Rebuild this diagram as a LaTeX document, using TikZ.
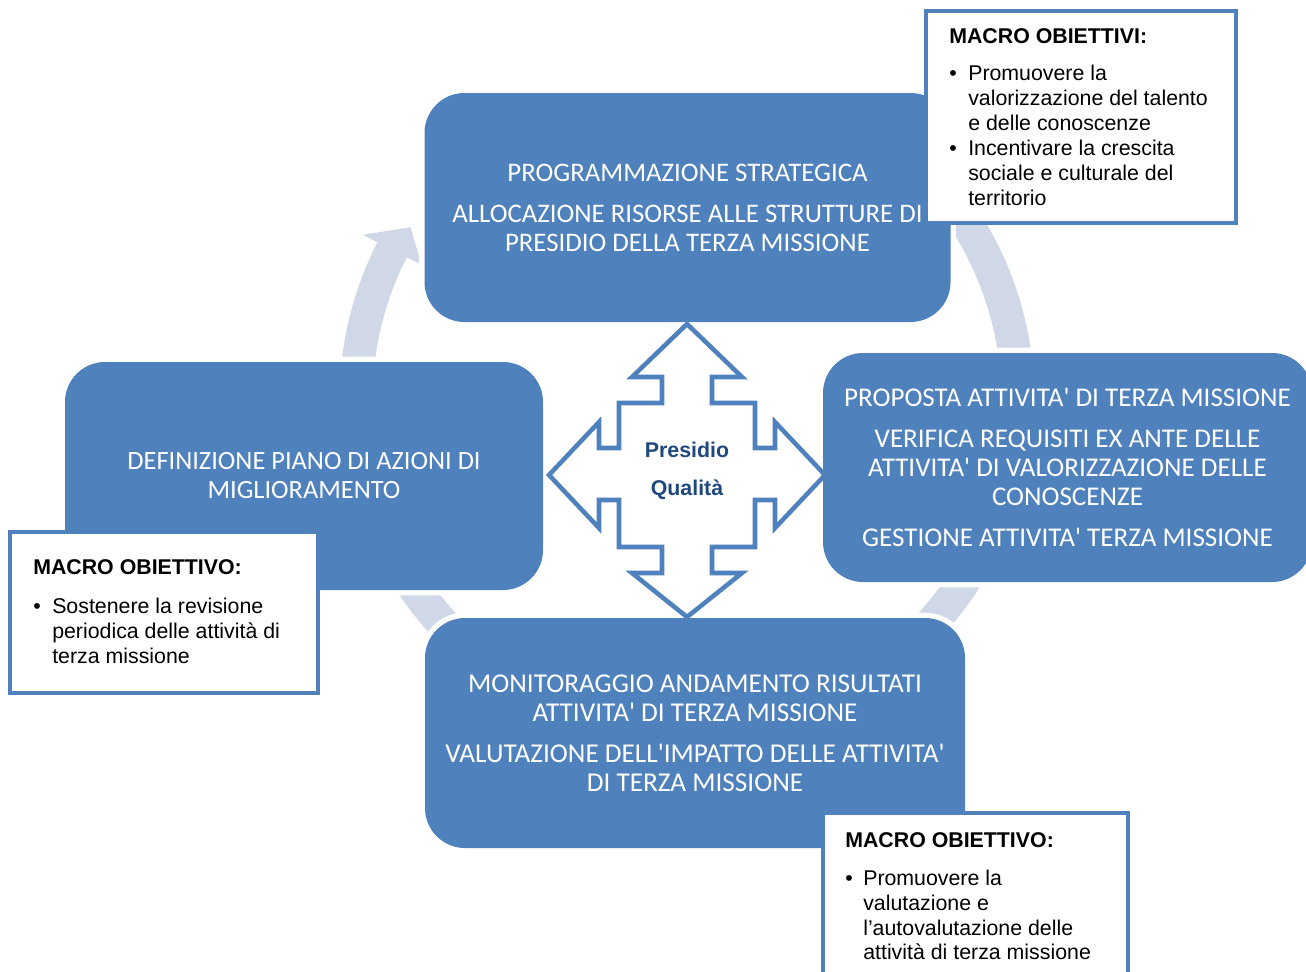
\documentclass[tikz,border=0pt]{standalone}
\usepackage{fontspec}
\newfontfamily\boxfont{Carlito}
\newfontfamily\calfont{Liberation Sans}
\definecolor{boxblue}{HTML}{4F81BD}
\definecolor{ringc}{HTML}{D0D8E8}
\definecolor{darkblue}{HTML}{1F497D}
\begin{document}
\begin{tikzpicture}[x=0.75pt,y=-0.75pt,
  ring/.style={draw=ringc,line width=24.75pt,line cap=butt},
  box/.style={rounded corners=30pt,fill=boxblue,text=white,align=center,inner sep=0pt,
    font=\boxfont\fontsize{#1}{21.75}\selectfont,
    preaction={draw=white,line width=8pt}},
  box/.default=19.8,
  callout/.style={draw=boxblue,fill=white,line width=2.6pt,inner sep=0pt},
  ct/.style={inner sep=0pt,anchor=base west,font=\calfont\fontsize{16}{18.75}\selectfont},
  cttitle/.style={ct,font=\calfont\bfseries\fontsize{16}{18.75}\selectfont},
  quad/.style={draw=boxblue,fill=white,line width=3.4pt,line join=miter},
  pq/.style={inner sep=0pt,anchor=base,text=darkblue,font=\calfont\bfseries\fontsize{16}{18}\selectfont}
]
\useasboundingbox (0,0) rectangle (1306,971);
\fill[white] (0,0) rectangle (1306,971);
\coordinate (C) at (687,400);
% ring segments
\draw[ring] (C) ++(178:331) arc[start angle=178,end angle=207.5,radius=331];
\path (C) ++(207:364) coordinate (hw1);
\path (C) ++(207:298) coordinate (hw2);
\path (C) ++(212:326) coordinate (ht);
\fill[ringc] (hw1) -- (ht) -- (hw2) -- cycle;
\draw[ring] (C) ++(300:331) arc[start angle=300,end angle=365,radius=331];
\draw[ring] (C) ++(15:331) arc[start angle=15,end angle=60,radius=331];
\draw[ring] (C) ++(120:331) arc[start angle=120,end angle=165,radius=331];
% boxes
\node[box=20.1,minimum width=394.5pt,minimum height=171.75pt] (topbox) at (687.5,207.5)
  {PROGRAMMAZIONE STRATEGICA\\[9pt]ALLOCAZIONE RISORSE ALLE STRUTTURE DI\\PRESIDIO DELLA TERZA MISSIONE};
\node[box=19.8,minimum width=358.5pt,minimum height=171pt] (leftbox) at (304,476)
  {DEFINIZIONE PIANO DI AZIONI DI\\MIGLIORAMENTO};
\node[box=20.3,minimum width=366.75pt,minimum height=171.75pt] (rightbox) at (1067.5,467.5)
  {PROPOSTA ATTIVITA' DI TERZA MISSIONE\\[9pt]VERIFICA REQUISITI EX ANTE DELLE\\ATTIVITA' DI VALORIZZAZIONE DELLE\\CONOSCENZE\\[9pt]GESTIONE ATTIVITA' TERZA MISSIONE};
\node[box=20.4,minimum width=405pt,minimum height=172.5pt] (botbox) at (695,733)
  {MONITORAGGIO ANDAMENTO RISULTATI\\ATTIVITA' DI TERZA MISSIONE\\[9pt]VALUTAZIONE DELL'IMPATTO DELLE ATTIVITA'\\DI TERZA MISSIONE};
% central quad arrow
\draw[quad] (687,324) -- (742,377) -- (712,377) -- (712,403) -- (755,403) -- (755,448)
  -- (775,448) -- (775,422) -- (825,475) -- (775,528) -- (775,500) -- (755,500)
  -- (755,547) -- (712,547) -- (712,573) -- (742,573) -- (687,617) -- (632,573)
  -- (662,573) -- (662,547) -- (619,547) -- (619,500) -- (599,500) -- (599,528)
  -- (549,475) -- (599,422) -- (599,448) -- (619,448) -- (619,403) -- (662,403)
  -- (662,377) -- (632,377) -- cycle;
\node[pq] (pq1) at (687,457.5) {Presidio};
\node[pq] (pq2) at (687,495) {Qualità};
% callout 1
\node[callout,minimum width=232.5pt,minimum height=159pt] (c1) at (1081,117) {};
\node[cttitle] (c1t) at (949,43) {MACRO OBIETTIVI:};
\node[ct] (c1b1) at (949,80) {•};
\node[ct] (c1l1) at (968,80) {Promuovere la};
\node[ct] (c1l2) at (968,105) {valorizzazione del talento};
\node[ct] (c1l3) at (968,130) {e delle conoscenze};
\node[ct] (c1b2) at (949,155) {•};
\node[ct] (c1l4) at (968,155) {Incentivare la crescita};
\node[ct] (c1l5) at (968,180) {sociale e culturale del};
\node[ct] (c1l6) at (968,205) {territorio};
% callout 2
\node[callout,minimum width=231pt,minimum height=120.75pt] (c2) at (164,612.5) {};
\node[cttitle] (c2t) at (33,574) {MACRO OBIETTIVO:};
\node[ct] (c2b1) at (33,613) {•};
\node[ct] (c2l1) at (52,613) {Sostenere la revisione};
\node[ct] (c2l2) at (52,638) {periodica delle attività di};
\node[ct] (c2l3) at (52,663) {terza missione};
% callout 3
\node[callout,minimum width=228.75pt,minimum height=132.75pt] (c3) at (975.5,901.5) {};
\node[cttitle] (c3t) at (845,847) {MACRO OBIETTIVO:};
\node[ct] (c3b1) at (845,885) {•};
\node[ct] (c3l1) at (863,885) {Promuovere la};
\node[ct] (c3l2) at (863,910) {valutazione e};
\node[ct] (c3l3) at (863,935) {l’autovalutazione delle};
\node[ct] (c3l4) at (863,959) {attività di terza missione};
\end{tikzpicture}
\end{document}
